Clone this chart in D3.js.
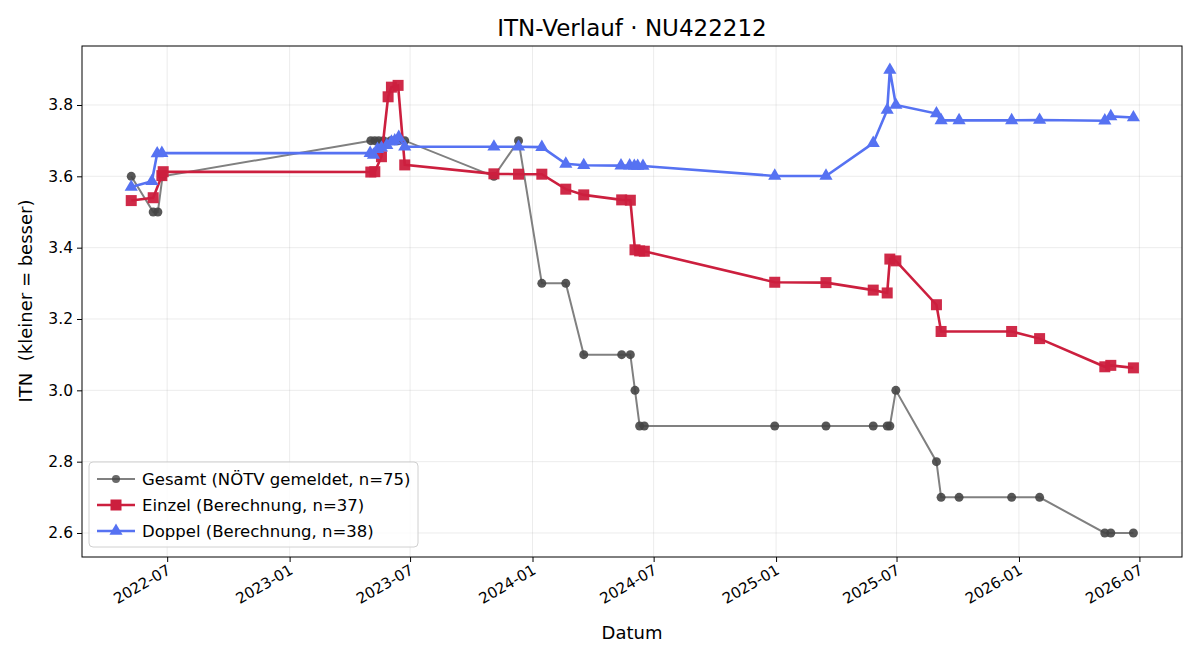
<!DOCTYPE html>
<html>
<head>
<meta charset="utf-8">
<script src="https://cdn.jsdelivr.net/npm/d3@7"></script>
<style>
  body { margin: 0; background: #fff; }
  text { font-family: "DejaVu Sans", sans-serif; }
</style>
</head>
<body>
<svg id="chart" width="1200" height="660"></svg>
<script>
// data
const gesamtDates = ["2022-05-08","2022-06-10","2022-06-17","2022-06-24","2023-05-03","2023-05-09","2023-05-15","2023-05-22","2023-06-02","2023-06-08","2023-06-14","2023-06-23","2023-11-04","2023-12-11","2024-01-15","2024-02-20","2024-03-18","2024-05-14","2024-05-27","2024-06-03","2024-06-10","2024-06-17","2024-12-30","2025-03-17","2025-05-27","2025-06-17","2025-06-21","2025-06-30","2025-08-30","2025-09-06","2025-10-03","2025-12-21","2026-02-01","2026-05-10","2026-05-19","2026-06-22"];
const gesamtValues = [3.6,3.5,3.5,3.6,3.7,3.7,3.7,3.7,3.7,3.7,3.7,3.7,3.6,3.7,3.3,3.3,3.1,3.1,3.1,3.0,2.9,2.9,2.9,2.9,2.9,2.9,2.9,3.0,2.8,2.7,2.7,2.7,2.7,2.6,2.6,2.6];

const einzelDates = ["2022-05-08","2022-06-10","2022-06-23","2022-06-25","2023-05-03","2023-05-09","2023-05-19","2023-05-29","2023-06-03","2023-06-13","2023-06-23","2023-11-04","2023-12-11","2024-01-15","2024-02-20","2024-03-18","2024-05-14","2024-05-27","2024-06-03","2024-06-10","2024-06-17","2024-12-30","2025-03-17","2025-05-27","2025-06-17","2025-06-21","2025-06-30","2025-08-30","2025-09-06","2025-12-21","2026-02-01","2026-05-10","2026-05-19","2026-06-22"];
const einzelValues = [3.532,3.540,3.602,3.613,3.612,3.613,3.655,3.823,3.850,3.855,3.632,3.607,3.606,3.606,3.564,3.548,3.534,3.533,3.394,3.391,3.390,3.303,3.302,3.281,3.273,3.368,3.363,3.240,3.165,3.165,3.145,3.066,3.070,3.063];

const doppelDates = ["2022-05-08","2022-06-08","2022-06-16","2022-06-23","2023-05-02","2023-05-07","2023-05-13","2023-05-19","2023-05-27","2023-06-03","2023-06-08","2023-06-14","2023-06-23","2023-11-04","2023-12-11","2024-01-15","2024-02-20","2024-03-18","2024-05-13","2024-05-26","2024-06-02","2024-06-07","2024-06-15","2024-12-30","2025-03-17","2025-05-27","2025-06-17","2025-06-21","2025-06-30","2025-08-30","2025-09-06","2025-10-03","2025-12-21","2026-02-01","2026-05-10","2026-05-19","2026-06-22"];
const doppelValues = [3.570,3.586,3.664,3.665,3.665,3.660,3.676,3.680,3.687,3.697,3.700,3.710,3.683,3.683,3.683,3.682,3.635,3.631,3.630,3.630,3.629,3.629,3.629,3.601,3.601,3.693,3.786,3.898,3.800,3.776,3.757,3.757,3.757,3.758,3.756,3.768,3.765];

const yTicks = [2.6, 2.8, 3.0, 3.2, 3.4, 3.6, 3.8];
const xTicks = ["2022-07-01","2023-01-01","2023-07-01","2024-01-01","2024-07-01","2025-01-01","2025-07-01","2026-01-01","2026-07-01"];
const legendLabels = ["Gesamt (NÖTV gemeldet, n=75)", "Einzel (Berechnung, n=37)", "Doppel (Berechnung, n=38)"];

const parse = d3.timeParse("%Y-%m-%d");
const zip = (ds, vs) => ds.map((d, i) => ({date: parse(d), value: vs[i]}));
const gesamt = zip(gesamtDates, gesamtValues);
const einzel = zip(einzelDates, einzelValues);
const doppel = zip(doppelDates, doppelValues);

const plotL = 82, plotR = 1182, plotT = 46, plotB = 557;
const svg = d3.select('#chart');

const xScale = d3.scaleTime()
    .domain([parse("2022-02-23"), parse("2026-09-03")])
    .range([plotL, plotR]);
const yScale = d3.scaleLinear()
    .domain([2.5327, 3.9654])
    .range([plotB, plotT]);

// grid
svg.append('g').selectAll('line').data(xTicks.map(parse)).join('line')
    .attr('x1', d => xScale(d)).attr('x2', d => xScale(d))
    .attr('y1', plotT).attr('y2', plotB)
    .attr('stroke', '#b0b0b0').attr('stroke-opacity', 0.3).attr('stroke-width', 0.8);
svg.append('g').selectAll('line').data(yTicks).join('line')
    .attr('x1', plotL).attr('x2', plotR)
    .attr('y1', d => yScale(d)).attr('y2', d => yScale(d))
    .attr('stroke', '#b0b0b0').attr('stroke-opacity', 0.3).attr('stroke-width', 0.8);

// axes
const xAxis = d3.axisBottom(xScale)
    .tickValues(xTicks.map(parse))
    .tickFormat(d3.timeFormat("%Y-%m"))
    .tickSize(5).tickSizeOuter(0);
const yAxis = d3.axisLeft(yScale)
    .tickValues(yTicks)
    .tickFormat(d3.format(".1f"))
    .tickSize(5).tickSizeOuter(0);

const gx = svg.append('g')
    .attr('transform', `translate(0, ${plotB})`)
    .call(xAxis)
    .attr('font-family', null).attr('font-size', null);
gx.select('.domain').remove();
gx.selectAll('text')
    .style('font-size', '15px').attr('fill', '#000')
    .attr('text-anchor', 'end')
    .attr('dy', null).attr('y', 0)
    .attr('transform', 'translate(4, 16) rotate(-30)');

const gy = svg.append('g')
    .attr('transform', `translate(${plotL}, 0)`)
    .call(yAxis)
    .attr('font-family', null).attr('font-size', null);
gy.select('.domain').remove();
gy.selectAll('text').style('font-size', '15.5px').attr('fill', '#000').attr('x', -9);

svg.append('rect')
    .attr('x', plotL).attr('y', plotT)
    .attr('width', plotR - plotL).attr('height', plotB - plotT)
    .attr('fill', 'none').attr('stroke', '#000').attr('stroke-width', 1);

// series
const line = d3.line().x(d => xScale(d.date)).y(d => yScale(d.value));
const gray = '#808080', grayDot = '#454545', red = '#cc1f3e', blue = '#5672f2';

svg.append('path').datum(gesamt)
    .attr('fill', 'none').attr('stroke', gray).attr('stroke-width', 2).attr('d', line);
svg.append('g').selectAll('circle').data(gesamt).join('circle')
    .attr('cx', d => xScale(d.date)).attr('cy', d => yScale(d.value))
    .attr('r', 4.5).attr('fill', grayDot).attr('fill-opacity', 0.9);

svg.append('path').datum(einzel)
    .attr('fill', 'none').attr('stroke', red).attr('stroke-width', 2.6).attr('d', line);
svg.append('g').selectAll('rect').data(einzel).join('rect')
    .attr('x', d => xScale(d.date) - 5.5).attr('y', d => yScale(d.value) - 5.5)
    .attr('width', 11).attr('height', 11)
    .attr('fill', red).attr('fill-opacity', 0.95);

const tri = d3.symbol().type(d3.symbolTriangle).size(75);
svg.append('path').datum(doppel)
    .attr('fill', 'none').attr('stroke', blue).attr('stroke-width', 2.6).attr('d', line);
svg.append('g').selectAll('path').data(doppel).join('path')
    .attr('transform', d => `translate(${xScale(d.date)}, ${yScale(d.value)})`)
    .attr('d', tri).attr('fill', blue);

// titles
svg.append('text').attr('x', (plotL + plotR) / 2).attr('y', 36)
    .attr('text-anchor', 'middle').style('font-size', '23px')
    .text('ITN-Verlauf · NU422212');
svg.append('text').attr('x', (plotL + plotR) / 2).attr('y', 639)
    .attr('text-anchor', 'middle').style('font-size', '18px')
    .text('Datum');
svg.append('text')
    .attr('transform', 'translate(32, 301) rotate(-90)')
    .attr('text-anchor', 'middle').style('font-size', '18px')
    .style('white-space', 'pre')
    .text('ITN  (kleiner = besser)');

// legend
const lg = svg.append('g');
lg.append('rect').attr('x', 89).attr('y', 462).attr('width', 329).attr('height', 85)
    .attr('rx', 4).attr('fill', '#fff').attr('fill-opacity', 0.8)
    .attr('stroke', '#d0d0d0');
const legendColors = [gray, red, blue];
legendLabels.forEach((lab, i) => {
    const y = 479 + i * 26;
    lg.append('line').attr('x1', 97).attr('x2', 135).attr('y1', y).attr('y2', y)
        .attr('stroke', legendColors[i]).attr('stroke-width', i === 0 ? 2 : 2.6);
    if (i === 0) {
        lg.append('circle').attr('cx', 116).attr('cy', y).attr('r', 4).attr('fill', grayDot).attr('fill-opacity', 0.8);
    } else if (i === 1) {
        lg.append('rect').attr('x', 110.5).attr('y', y - 5.5).attr('width', 11).attr('height', 11).attr('fill', red);
    } else {
        lg.append('path').attr('transform', `translate(116, ${y})`).attr('d', tri).attr('fill', blue);
    }
    lg.append('text').attr('x', 142).attr('y', y + 6).style('font-size', '16.5px').text(lab);
});
</script>
</body>
</html>
